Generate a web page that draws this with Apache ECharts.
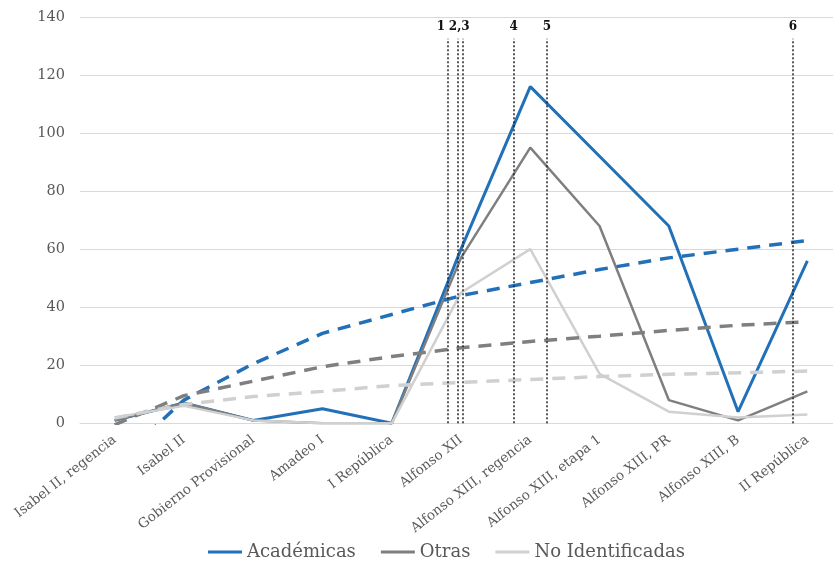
<!DOCTYPE html>
<html><head><meta charset="utf-8">
<script src="https://cdn.jsdelivr.net/npm/echarts@6/dist/echarts.min.js"></script>
<style>html,body{margin:0;padding:0;background:#fff}#c{width:833px;height:567px}</style>
</head><body><div id="c"></div><script>
const categories = ['Isabel II, regencia', 'Isabel II', 'Gobierno Provisional', 'Amadeo I', 'I República', 'Alfonso XII', 'Alfonso XIII, regencia', 'Alfonso XIII, etapa 1', 'Alfonso XIII, PR', 'Alfonso XIII, B', 'II República'];
const academicas = [1, 7, 1, 5, 0, 60, 116, 92, 68, 4, 56];
const otras = [1, 7, 1, 0, 0, 57, 95, 68, 8, 1, 11];
const noIdentificadas = [2, 6, 1, 0, 0, 45, 60, 17, 4, 2, 3];
const trendAcademicas = [-14, 8, 20.5, 31, 37.5, 44, 48.5, 53, 57, 60, 63];
const trendOtras = [-0.5, 9.5, 14.5, 19.5, 23, 26, 28.2, 30, 32, 33.8, 35];
const trendNoIdentificadas = [1.8, 6.5, 9.2, 11, 13, 14.1, 15.1, 16.1, 16.9, 17.4, 18];
const eventPositions = [4.81, 4.96, 5.03, 5.76, 6.24, 9.79];
const eventLabels = ['1', '2,3', '', '4', '5', '6'];
const eventTop = 132.5;
const yMin = 0, yMax = 140, yInterval = 20;

const FONT = 'DejaVu Serif';
const BLUE = '#2270b8', GRAY = '#7f7f7f', LIGHT = '#d0d0d0';

function solid(name, data, color, width) {
  return { name, type: 'line', data, symbol: 'none', clip: true,
    lineStyle: { color, width }, itemStyle: { color } };
}
function trend(name, data, color) {
  return { name, type: 'line', data, symbol: 'none', clip: true, z: 3,
    lineStyle: { color, width: 3.5, type: [13, 9] }, itemStyle: { color } };
}
const labelShift = i => (i === 0 ? -7 : i === 1 ? 1 : 0);

const chart = echarts.init(document.getElementById('c'));
chart.setOption({
  animation: false,
  backgroundColor: '#fff',
  grid: { left: 80, width: 762, top: 17, bottom: 143.7, containLabel: false, outerBoundsMode: 'none' },
  xAxis: [
    { type: 'category', data: categories, boundaryGap: true,
      axisLine: { show: true, lineStyle: { color: '#d9d9d9', width: 1 } },
      axisTick: { show: false },
      axisLabel: { interval: 0, rotate: 38, margin: 15, fontFamily: FONT, fontSize: 13.5, color: '#595959' } },
    { type: 'value', min: -0.5, max: 10.5, show: false }
  ],
  yAxis: { type: 'value', min: yMin, max: yMax, interval: yInterval,
    axisLine: { show: false }, axisTick: { show: false },
    splitLine: { lineStyle: { color: '#d9d9d9', width: 1 } },
    axisLabel: { fontFamily: FONT, fontSize: 14.5, color: '#595959', margin: 15 } },
  legend: { data: ['Académicas', 'Otras', 'No Identificadas'], left: 203, top: 538,
    icon: 'rect', itemWidth: 34, itemHeight: 3, itemGap: 25,
    textStyle: { fontFamily: FONT, fontSize: 18, color: '#595959' } },
  series: [
    solid('Académicas', academicas, BLUE, 3),
    solid('Otras', otras, GRAY, 2.5),
    solid('No Identificadas', noIdentificadas, LIGHT, 2.5),
    trend('tA', trendAcademicas, BLUE),
    trend('tO', trendOtras, GRAY),
    trend('tN', trendNoIdentificadas, LIGHT),
    { name: 'events', type: 'line', xAxisIndex: 1, data: [], z: 5,
      markLine: { silent: true, symbol: ['none', 'none'], animation: false,
        lineStyle: { color: '#222', width: 1.5, type: [2, 2] },
        data: eventPositions.map((p, i) => [
          { coord: [p, 0] },
          { coord: [p, eventTop],
            label: { show: eventLabels[i] !== '', formatter: eventLabels[i], position: 'end', distance: 6,
              offset: [labelShift(i), 0],
              fontFamily: FONT, fontSize: 12, fontWeight: 'bold', color: '#111' } }
        ]) } }
  ]
});
</script></body></html>
